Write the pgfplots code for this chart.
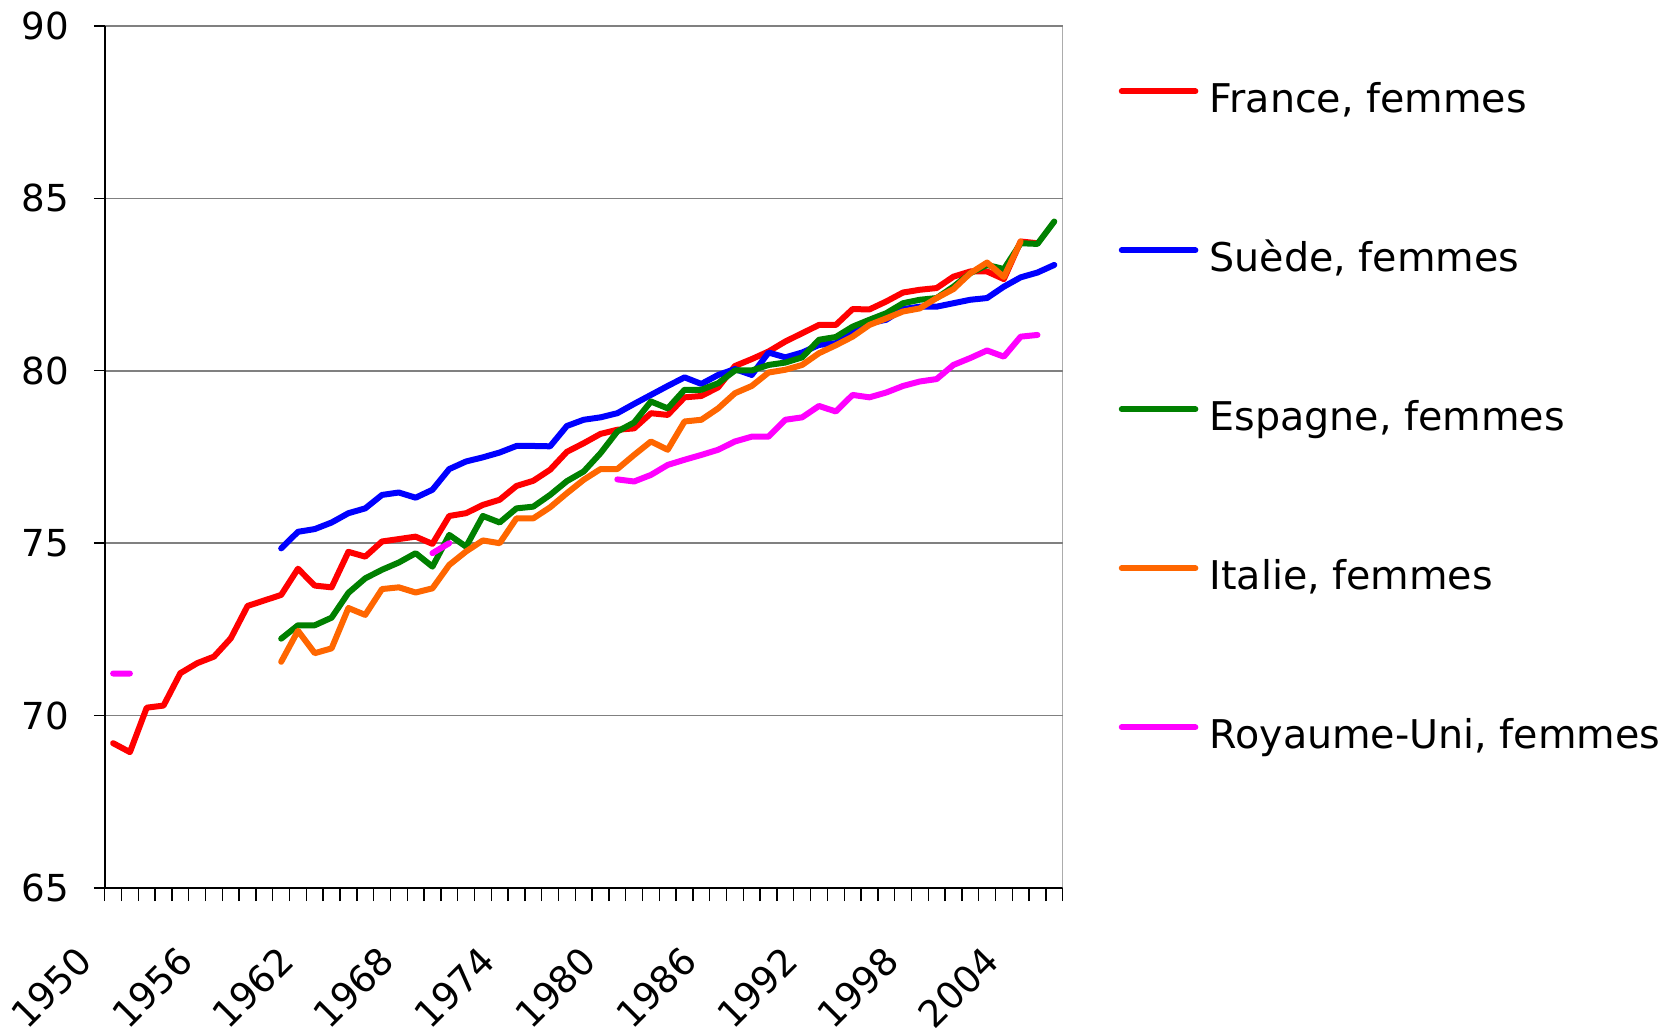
\documentclass[border=0pt]{standalone}
\usepackage{fontspec}
\setmainfont{DejaVu Sans}
\usepackage{pgfplots}
\pgfplotsset{compat=1.18}

\definecolor{frRed}{HTML}{FF0000}
\definecolor{seBlue}{HTML}{0000FF}
\definecolor{esGreen}{HTML}{008000}
\definecolor{itOrange}{HTML}{FF6600}
\definecolor{ukPink}{HTML}{FF00FF}
\definecolor{gridGray}{HTML}{808080}

% female life expectancy
\pgfplotstableread{
year val
1950 69.20
1951 68.94
1952 70.23
1953 70.29
1954 71.23
1955 71.52
1956 71.71
1957 72.24
1958 73.18
1959 73.34
1960 73.50
1961 74.26
1962 73.77
1963 73.72
1964 74.75
1965 74.61
1966 75.05
1967 75.12
1968 75.19
1969 74.98
1970 75.79
1971 75.87
1972 76.11
1973 76.26
1974 76.66
1975 76.81
1976 77.13
1977 77.65
1978 77.90
1979 78.17
1980 78.29
1981 78.33
1982 78.77
1983 78.72
1984 79.23
1985 79.27
1986 79.52
1987 80.14
1988 80.34
1989 80.56
1990 80.85
1991 81.09
1992 81.33
1993 81.33
1994 81.79
1995 81.78
1996 82.01
1997 82.27
1998 82.35
1999 82.40
2000 82.73
2001 82.88
2002 82.88
2003 82.66
2004 83.75
2005 83.70
}\france

\pgfplotstableread{
year val
1960 74.85
1961 75.33
1962 75.41
1963 75.60
1964 75.87
1965 76.01
1966 76.40
1967 76.47
1968 76.32
1969 76.55
1970 77.15
1971 77.37
1972 77.49
1973 77.63
1974 77.82
1975 77.82
1976 77.81
1977 78.40
1978 78.58
1979 78.65
1980 78.77
1981 79.04
1982 79.30
1983 79.56
1984 79.81
1985 79.62
1986 79.88
1987 80.05
1988 79.88
1989 80.53
1990 80.39
1991 80.53
1992 80.75
1993 80.80
1994 81.14
1995 81.38
1996 81.48
1997 81.79
1998 81.86
1999 81.86
2000 81.96
2001 82.06
2002 82.11
2003 82.44
2004 82.71
2005 82.85
2006 83.07
}\suede

\pgfplotstableread{
year val
1960 72.23
1961 72.62
1962 72.62
1963 72.84
1964 73.56
1965 73.98
1966 74.23
1967 74.44
1968 74.71
1969 74.32
1970 75.24
1971 74.90
1972 75.79
1973 75.60
1974 76.01
1975 76.06
1976 76.40
1977 76.80
1978 77.08
1979 77.61
1980 78.24
1981 78.50
1982 79.11
1983 78.91
1984 79.45
1985 79.45
1986 79.64
1987 80.01
1988 80.01
1989 80.17
1990 80.24
1991 80.39
1992 80.90
1993 80.98
1994 81.28
1995 81.48
1996 81.67
1997 81.96
1998 82.06
1999 82.11
2000 82.44
2001 82.83
2002 83.07
2003 82.95
2004 83.70
2005 83.68
2006 84.33
}\espagne

\pgfplotstableread{
year val
1960 71.56
1961 72.46
1962 71.81
1963 71.95
1964 73.12
1965 72.92
1966 73.67
1967 73.72
1968 73.57
1969 73.69
1970 74.37
1971 74.76
1972 75.08
1973 75.00
1974 75.72
1975 75.72
1976 76.04
1977 76.45
1978 76.84
1979 77.15
1980 77.15
1981 77.56
1982 77.95
1983 77.71
1984 78.53
1985 78.58
1986 78.91
1987 79.35
1988 79.56
1989 79.95
1990 80.03
1991 80.17
1992 80.51
1993 80.74
1994 80.99
1995 81.33
1996 81.52
1997 81.72
1998 81.81
1999 82.11
2000 82.37
2001 82.83
2002 83.14
2003 82.72
2004 83.75
}\italie

% gaps in the UK series are nan (jumped over)
\pgfplotstableread{
year val
1950 71.22
1951 71.22
1952 nan
1969 74.71
1970 75.00
1971 nan
1980 76.85
1981 76.79
1982 76.98
1983 77.27
1984 77.42
1985 77.56
1986 77.71
1987 77.95
1988 78.09
1989 78.09
1990 78.58
1991 78.65
1992 78.98
1993 78.82
1994 79.30
1995 79.23
1996 79.37
1997 79.56
1998 79.69
1999 79.76
2000 80.17
2001 80.37
2002 80.59
2003 80.41
2004 80.99
2005 81.04
}\royaumeuni

\begin{document}
\begin{tikzpicture}
\begin{axis}[
    at={(0,0)}, anchor=south west,
    scale only axis,
    width=239.5pt, height=215.5pt,
    xmin=1949.5, xmax=2006.5,
    ymin=65, ymax=90,
    axis lines=left,
    axis line style={-, black, line width=0.45pt},
    tick align=outside,
    xtick={1950,1956,...,2004},
    minor xtick={1949.5,1950.5,...,2006.5},
    every major x tick/.append style={draw=none},
    minor tick length=3.3pt,
    major tick length=2.7pt,
    tick style={black, line width=0.35pt},
    ytick={65,70,...,90},
    ymajorgrids=true,
    major grid style={gridGray, line width=0.4pt},
    /pgf/number format/assume math mode=true,
    /pgf/number format/1000 sep={},
    ticklabel style={font=\fontsize{9.3}{11}\selectfont, text=black},
    xticklabel style={xshift=-7pt, yshift=-13.7pt, rotate=45, anchor=east, inner sep=0pt},
    yticklabel style={anchor=east, inner sep=0pt, xshift=-6pt},
    unbounded coords=jump,
    every axis plot/.append style={line width=1.5pt, line cap=round, line join=round, no markers},
    legend image code/.code={\draw[#1, line cap=round] (0.8pt,2.9pt) -- (19.2pt,2.9pt);},
    legend cell align=left,
    legend style={at={(1.0577,0.935)}, anchor=north west, draw=none, fill=none,
        inner sep=0pt, row sep=29.75pt,
        font=\fontsize{9.9}{11}\selectfont,
        nodes={inner sep=0pt, text height=7.5pt, text depth=2.5pt},
        /tikz/every odd column/.append style={column sep=2.8pt}},
]
\addplot[frRed] table[x=year, y=val] {\france};
\addlegendentry{France, femmes}
\addplot[seBlue] table[x=year, y=val] {\suede};
\addlegendentry{Suède, femmes}
\addplot[esGreen] table[x=year, y=val] {\espagne};
\addlegendentry{Espagne, femmes}
\addplot[itOrange] table[x=year, y=val] {\italie};
\addlegendentry{Italie, femmes}
\addplot[ukPink] table[x=year, y=val] {\royaumeuni};
\addlegendentry{Royaume-Uni, femmes}

% grey plot-area border on the right
\draw[gridGray, line width=0.45pt] (rel axis cs:1,0) -- (rel axis cs:1,1);
\end{axis}
\pgfresetboundingbox
\useasboundingbox (-26.18pt,-36pt) rectangle (389.58pt,222pt);
\end{tikzpicture}
\end{document}
